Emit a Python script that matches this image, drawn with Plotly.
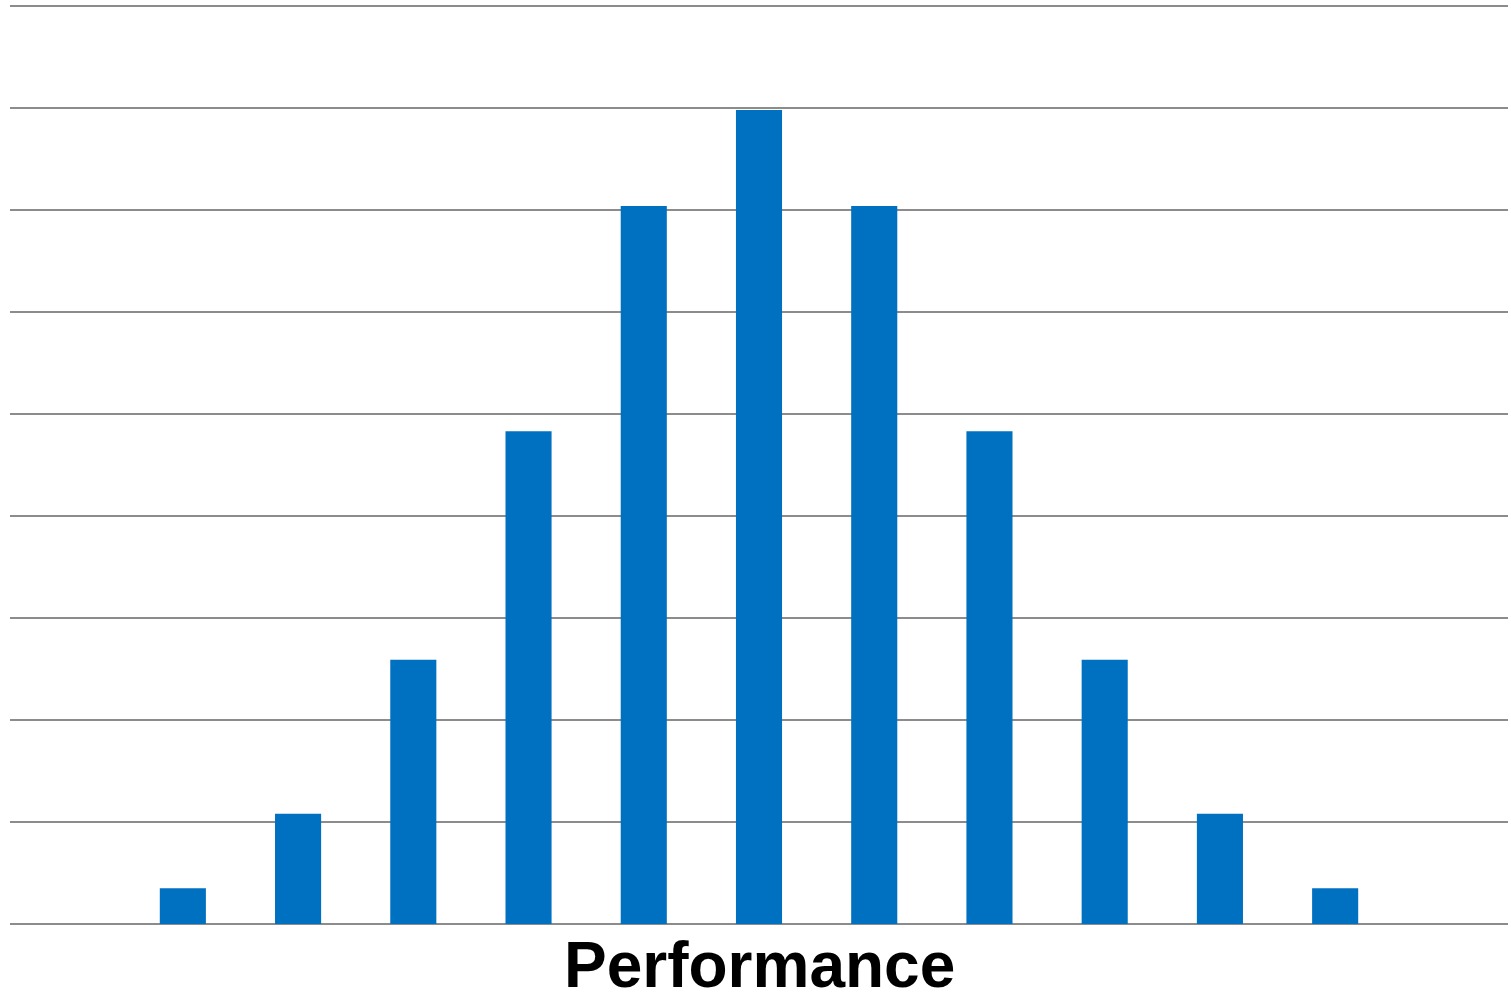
import plotly.graph_objects as go

categories = ["c0", "c1", "c2", "c3", "c4", "c5", "c6", "c7", "c8", "c9", "c10", "c11", "c12"]
values = [None, 0.35, 1.08, 2.59, 4.83, 7.04, 7.98, 7.04, 4.83, 2.59, 1.08, 0.35, None]
x_title = "Performance"

fig = go.Figure(go.Bar(x=categories, y=values, marker=dict(color="#0070C0", line=dict(width=0)),
                       hoverinfo="skip"))

fig.update_layout(
    width=1511, height=995,
    margin=dict(l=10, r=3, t=5, b=71),
    paper_bgcolor="white", plot_bgcolor="white",
    bargap=0.6, showlegend=False,
    font=dict(family="Liberation Sans, Arial, sans-serif"),
    xaxis=dict(type="category", showticklabels=False, showgrid=False, zeroline=False,
               showline=False, ticks=""),
    yaxis=dict(range=[0, 9.01], tickvals=list(range(10)), showticklabels=False, showgrid=True,
               gridcolor="#8c8c8c", gridwidth=2, zeroline=True, zerolinecolor="#8c8c8c",
               zerolinewidth=2, showline=False, ticks=""),
    annotations=[dict(text="<b>" + x_title + "</b>", xref="paper", yref="paper", x=0.5, y=0,
                      yshift=-3, xanchor="center", yanchor="top", showarrow=False,
                      font=dict(size=64, color="black", family="Liberation Sans, Arial, sans-serif"))],
)

fig.write_html("out.html", config={"displayModeBar": False},
               post_script="document.body.style.margin='0';document.body.style.padding='0';")
